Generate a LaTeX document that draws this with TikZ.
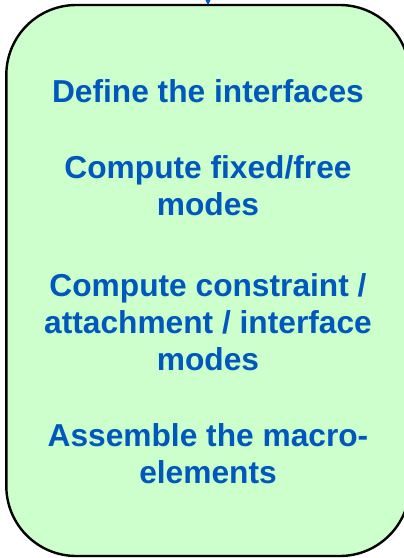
\documentclass[tikz,border=0pt]{standalone}
\usepackage{fontspec}
\setmainfont{Liberation Sans}
\usetikzlibrary{arrows.meta}
\definecolor{stepblue}{RGB}{0,88,188}
\definecolor{stepgreen}{HTML}{CCFFCC}
\tikzset{
  x=1pt, y=1pt,
  frame/.style={draw=black, line width=2.4pt, fill=stepgreen, rounded corners=70pt,
    minimum width=403.4pt, minimum height=551pt, inner sep=0pt, outer sep=0pt},
  % anchor=base puts the last line of each block on the given baseline
  steptext/.style={text=stepblue, font=\fontsize{31.7}{37}\selectfont\bfseries,
    align=center, anchor=base, inner sep=0pt},
  flow/.style={draw=stepblue, line width=1.2pt, -{Stealth[length=6pt,width=6pt]}}
}
\begin{document}
\begin{tikzpicture}
\useasboundingbox (0,0) rectangle (404,-558);
% process box, partly running off the right edge
\node[frame] (box) at (208,-280.5) {};
% incoming arrow from above
\coordinate (src) at (208,40);
\draw[flow] (src) -- (box.north);
% steps
\node[steptext] (s1) at (208,-102) {Define the interfaces};
\node[steptext] (s2) at (208,-215) {Compute fixed/free\\modes};
\node[steptext] (s3) at (208,-370) {Compute constraint /\\attachment / interface\\modes};
\node[steptext] (s4) at (208,-483) {Assemble the macro-\\elements};
\end{tikzpicture}
\end{document}
